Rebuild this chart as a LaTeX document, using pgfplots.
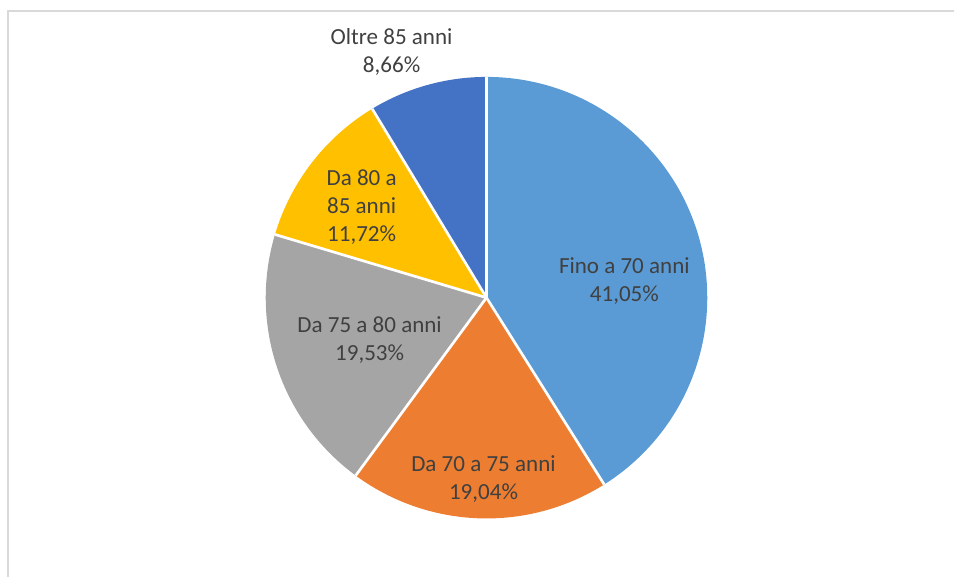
\documentclass[border=0pt]{standalone}
\usepackage{pgfplots}
\usepackage{pgfplotstable}
\pgfplotsset{compat=1.18}
\usepackage{fontspec}
\setmainfont{Carlito}
\definecolor{pie0}{HTML}{5B9BD5}
\definecolor{pie1}{HTML}{ED7D31}
\definecolor{pie2}{HTML}{A5A5A5}
\definecolor{pie3}{HTML}{FFC000}
\definecolor{pie4}{HTML}{4472C4}
\definecolor{lbl}{HTML}{404040}
\definecolor{frame}{HTML}{D9D9D9}

\pgfplotstableread{
value
41.05
19.04
19.53
11.72
8.66
}\piedata

\begin{document}
\begin{tikzpicture}
\begin{axis}[
  width=716.25pt, height=433.5pt, scale only axis,
  xmin=0, xmax=955, ymin=0, ymax=578,
  hide axis, clip=false,
]
\path (axis cs:0,0) rectangle (axis cs:955,578);
\draw[frame, line width=1.5pt] (axis cs:8,0) -- (axis cs:8,567) -- (axis cs:955,567);
\pgfplotsextra{
  \pgfplotstablegetrowsof{\piedata}
  \pgfmathtruncatemacro\nrows{\pgfplotsretval-1}
  \xdef\cum{0}
  \foreach \i in {0,...,\nrows} {
    \pgfplotstablegetelem{\i}{value}\of\piedata
    \let\v\pgfplotsretval
    \pgfmathsetmacro\a{90-3.6*\cum}
    \pgfmathsetmacro\b{90-3.6*(\cum+\v)}
    \fill[pie\i] (axis cs:487,280) -- ([shift={(\a:165.75pt)}]axis cs:487,280)
       arc[start angle=\a, end angle=\b, radius=165.75pt] -- cycle;
    \pgfmathsetmacro\c{\cum+\v}
    \xdef\cum{\c}
  }
  \xdef\cum{0}
  \foreach \i in {0,...,\nrows} {
    \pgfplotstablegetelem{\i}{value}\of\piedata
    \let\v\pgfplotsretval
    \pgfmathsetmacro\a{90-3.6*\cum}
    \draw[white, line width=2pt] (axis cs:487,280) -- ([shift={(\a:165.75pt)}]axis cs:487,280);
    \pgfmathsetmacro\c{\cum+\v}
    \xdef\cum{\c}
  }
}
\begin{scope}[every node/.style={text=lbl, font=\fontsize{17.3}{21}\selectfont, align=center, inner sep=0pt}]
\node at (axis cs:392,526) {Oltre 85 anni\\8,66\%};
\node at (axis cs:362,371) {Da 80 a\\85 anni\\11,72\%};
\node at (axis cs:625,297) {Fino a 70 anni\\41,05\%};
\node at (axis cs:370,238) {Da 75 a 80 anni\\19,53\%};
\node at (axis cs:484,98) {Da 70 a 75 anni\\19,04\%};
\end{scope}
\end{axis}
\end{tikzpicture}
\end{document}
